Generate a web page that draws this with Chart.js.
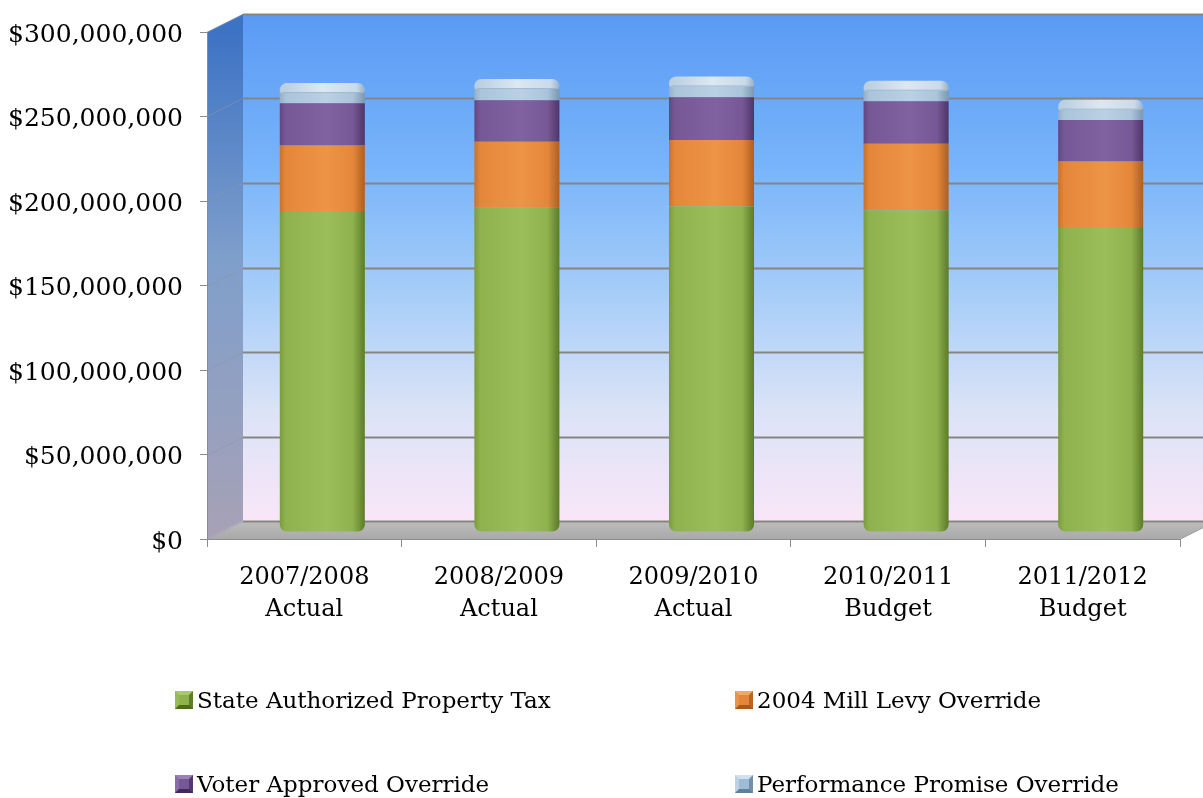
<!DOCTYPE html>
<html>
<head>
<meta charset="utf-8">
<title>Property Tax Revenue</title>
<script src="https://cdn.jsdelivr.net/npm/chart.js@4.4.1/dist/chart.umd.min.js"></script>
<style>
  html, body { margin: 0; padding: 0; background: #ffffff; }
  #wrap { position: relative; width: 1203px; height: 798px; }
  #c { position: absolute; left: 0; top: 0; }
  #legend { position: absolute; left: 0; top: 0; width: 1203px; height: 798px; pointer-events: none;
            font-family: "DejaVu Serif", serif; font-size: 23px; color: #000; }
  .item { position: absolute; display: flex; align-items: center; height: 18px; white-space: nowrap; }
  .swatch { box-sizing: border-box; width: 18px; height: 18px; border: 4px solid; margin-right: 4px; flex: none; }
</style>
</head>
<body>
<div id="wrap">
  <canvas id="c" width="1203" height="798"></canvas>
  <div id="legend"></div>
</div>
<script>
// ---- data ----
const categories = [
  ['2007/2008', 'Actual'],
  ['2008/2009', 'Actual'],
  ['2009/2010', 'Actual'],
  ['2010/2011', 'Budget'],
  ['2011/2012', 'Budget']
];
const seriesNames = [
  'State Authorized Property Tax',
  '2004 Mill Levy Override',
  'Voter Approved Override',
  'Performance Promise Override'
];
const stateAuthorized    = [190.0e6, 192.2e6, 192.6e6, 190.4e6, 179.9e6];
const millLevy2004       = [38.7e6, 38.7e6, 39.4e6, 39.3e6, 39.3e6];
const voterApproved      = [25.0e6, 24.6e6, 25.2e6, 25.2e6, 24.6e6];
const performancePromise = [7.2e6, 7.8e6, 7.6e6, 7.4e6, 7.3e6];
const yTickValues = [0, 50e6, 100e6, 150e6, 200e6, 250e6, 300e6];

// ---- styling ----
const FONT = '"DejaVu Serif", serif';
const DX = 36, DY = 18;          // depth of the box (back wall offset)
const BAR_FRACTION = 0.437;      // bar width relative to category width
const palettes = [
  // left edge, body, highlight, right edge
  ['#7b9b3d', '#8fb24e', '#9bbe5b', '#5c7b27'],
  ['#c9712b', '#e5873b', '#ed9446', '#ae5f1f'],
  ['#634780', '#775896', '#8162a1', '#4e3568'],
  ['#93afc8', '#aac4da', '#bad1e4', '#7b97b1']
];
const swatchEdges = [
  ['#a9c96a', '#98ba58', '#4f6b20', '#5f7e2b', '#8fb24e'],
  ['#f3a865', '#ec9446', '#a85a1c', '#bb6524', '#e5873b'],
  ['#9a7fba', '#8a6cab', '#42295c', '#533a6e', '#775896'],
  ['#cfe0ee', '#bcd2e4', '#5f7f9c', '#7190ad', '#9fbcd6']
];

function barFill(pal) {
  return (c) => {
    const chart = c.chart;
    const x = chart.scales && chart.scales.x;
    if (!chart.chartArea || !x || c.dataIndex === undefined) return pal[1];
    const w = (x.getPixelForValue(1) - x.getPixelForValue(0)) * BAR_FRACTION;
    const cx = x.getPixelForValue(c.dataIndex);
    const g = chart.ctx.createLinearGradient(cx - w / 2, 0, cx + w / 2, 0);
    g.addColorStop(0, pal[0]);
    g.addColorStop(0.07, pal[1]);
    g.addColorStop(0.55, pal[2]);
    g.addColorStop(0.86, pal[1]);
    g.addColorStop(1, pal[3]);
    return g;
  };
}

// walls, floor and the back-wall grid, plus the bars' depth shift and top caps
const boxPlugin = {
  id: 'box3d',
  beforeDraw(chart) {
    const { ctx, chartArea: a, scales: { y } } = chart;
    const W = chart.width;
    const top = a.top, bottom = a.bottom, left = a.left, right = a.right;
    ctx.save();

    // back wall
    const wg = ctx.createLinearGradient(0, top - DY, 0, bottom - DY);
    wg.addColorStop(0, '#5a9af4');
    wg.addColorStop(0.3, '#78b4fa');
    wg.addColorStop(0.55, '#a6cdf8');
    wg.addColorStop(0.78, '#dbe3f7');
    wg.addColorStop(1, '#f9e6f8');
    ctx.fillStyle = wg;
    ctx.fillRect(left + DX, top - DY, W - left - DX, bottom - top);

    // side wall
    const sg = ctx.createLinearGradient(0, top, 0, bottom);
    sg.addColorStop(0, '#3d73c4');
    sg.addColorStop(0.45, '#7f9fcb');
    sg.addColorStop(1, '#a7a1b6');
    ctx.fillStyle = sg;
    ctx.beginPath();
    ctx.moveTo(left, top);
    ctx.lineTo(left + DX, top - DY);
    ctx.lineTo(left + DX, bottom - DY);
    ctx.lineTo(left, bottom);
    ctx.closePath();
    ctx.fill();

    // floor
    const fg = ctx.createLinearGradient(0, bottom - DY, 0, bottom);
    fg.addColorStop(0, '#bdbdbd');
    fg.addColorStop(1, '#a9a9a9');
    ctx.fillStyle = fg;
    ctx.beginPath();
    ctx.moveTo(left, bottom);
    ctx.lineTo(left + DX, bottom - DY);
    ctx.lineTo(right + DX, bottom - DY);
    ctx.lineTo(right, bottom);
    ctx.closePath();
    ctx.fill();
    ctx.strokeStyle = '#9a9a9a';
    ctx.lineWidth = 1;
    ctx.beginPath();
    ctx.moveTo(right + 0.5, bottom);
    ctx.lineTo(right + DX + 0.5, bottom - DY);
    ctx.stroke();

    // gridlines across the back wall and the side wall
    y.ticks.forEach((t) => {
      const py = Math.round(y.getPixelForValue(t.value)) + 0.5;
      ctx.strokeStyle = '#878580';
      ctx.lineWidth = 2;
      ctx.beginPath();
      ctx.moveTo(left + DX, py - DY);
      ctx.lineTo(W, py - DY);
      ctx.stroke();
      ctx.strokeStyle = 'rgba(140,150,170,0.55)';
      ctx.lineWidth = 1;
      ctx.beginPath();
      ctx.moveTo(left, py);
      ctx.lineTo(left + DX, py - DY);
      ctx.stroke();
    });
    ctx.restore();
  },
  beforeDatasetsDraw(chart) {
    chart.ctx.save();
    chart.ctx.translate(DX / 2, -7);
  },
  afterDatasetsDraw(chart) {
    const ctx = chart.ctx;
    const meta = chart.getDatasetMeta(chart.data.datasets.length - 1);
    meta.data.forEach((bar) => {
      const { x, y, width } = bar.getProps(['x', 'y', 'width'], true);
      const l = x - width / 2, h = 8;
      const g = ctx.createLinearGradient(l, 0, l + width, 0);
      g.addColorStop(0, '#b7cde0');
      g.addColorStop(0.5, '#dce8f2');
      g.addColorStop(0.9, '#c9dae9');
      g.addColorStop(1, '#98b2ca');
      ctx.fillStyle = g;
      ctx.beginPath();
      ctx.roundRect(l, y - h, width, h + 2, [7, 7, 2, 2]);
      ctx.fill();
      ctx.strokeStyle = 'rgba(150,175,200,0.8)';
      ctx.lineWidth = 1;
      ctx.beginPath();
      ctx.moveTo(l + 3, y + 1.5);
      ctx.lineTo(l + width - 3, y + 1.5);
      ctx.stroke();
    });
    ctx.restore();
  }
};

const seriesValues = [stateAuthorized, millLevy2004, voterApproved, performancePromise];
const datasets = seriesNames.map((name, i) => ({
  label: name,
  data: seriesValues[i],
  backgroundColor: barFill(palettes[i]),
  borderWidth: 0,
  borderSkipped: false,
  borderRadius: i === 0 ? { topLeft: 0, topRight: 0, bottomLeft: 7, bottomRight: 7 } : 0,
  categoryPercentage: 1,
  barPercentage: BAR_FRACTION,
  clip: false
}));

Chart.defaults.font.family = FONT;
Chart.defaults.color = '#000';

new Chart(document.getElementById('c'), {
  type: 'bar',
  data: { labels: categories, datasets },
  plugins: [boxPlugin],
  options: {
    responsive: false,
    animation: false,
    layout: { padding: { top: 27, right: 23, left: 0, bottom: 0 } },
    plugins: { legend: { display: false }, tooltip: { enabled: false } },
    scales: {
      x: {
        stacked: true,
        grid: { display: true, offset: true, drawOnChartArea: false, tickLength: 8, color: '#8c8c8c' },
        border: { display: true, color: '#8c8c8c', width: 1 },
        ticks: { font: { size: 24, lineHeight: 1.33 }, padding: 15, maxRotation: 0, autoSkip: false, color: '#000' },
        afterFit(scale) { scale.height = 259; }
      },
      y: {
        stacked: true,
        min: 0,
        max: 300e6,
        afterBuildTicks(scale) { scale.ticks = yTickValues.map((v) => ({ value: v })); },
        grid: { display: true, drawOnChartArea: false, tickLength: 7, color: '#8c8c8c' },
        border: { display: true, color: '#8c8c8c', width: 1 },
        ticks: {
          font: { size: 25 },
          padding: 17,
          labelOffset: 3,
          color: '#000',
          callback: (v) => '$' + Number(v).toLocaleString('en-US')
        },
        afterFit(scale) { scale.width = 207; }
      }
    }
  }
});

// two-column legend below the plot
const legendSlots = [[175, 691], [735, 691], [175, 775], [735, 775]];
const legendEl = document.getElementById('legend');
seriesNames.forEach((name, i) => {
  const item = document.createElement('div');
  item.className = 'item';
  item.style.left = legendSlots[i][0] + 'px';
  item.style.top = legendSlots[i][1] + 'px';
  const sw = document.createElement('span');
  sw.className = 'swatch';
  const e = swatchEdges[i];
  sw.style.borderColor = `${e[0]} ${e[3]} ${e[2]} ${e[1]}`;
  sw.style.background = e[4];
  const tx = document.createElement('span');
  tx.textContent = name;
  item.appendChild(sw);
  item.appendChild(tx);
  legendEl.appendChild(item);
});
</script>
</body>
</html>
